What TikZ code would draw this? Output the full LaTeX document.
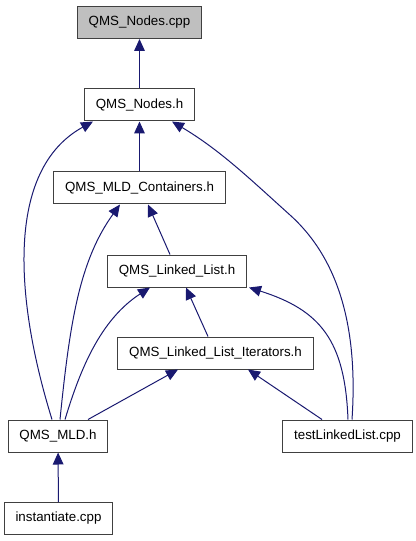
\documentclass[tikz,border=0pt]{standalone}
\usepackage{fontspec}
\setmainfont{Liberation Sans}
\usetikzlibrary{arrows.meta,calc}
\definecolor{inclnavy}{RGB}{25, 25, 112}
\definecolor{filegray}{RGB}{191, 191, 191}
\definecolor{fileedge}{RGB}{64, 64, 64}
\tikzset{
  % --- FILE BOXES ---
  file/.style={
    draw=fileedge,
    fill=white,
    line width=0.75pt,
    font=\fontsize{10}{12}\selectfont,
    inner xsep=8.5pt,
    inner ysep=0pt,
    minimum height=24pt
  },
  file-root/.style={
    file,
    fill=filegray
  },
  % --- ARROWS ---
  incl/.style={
    draw=inclnavy,
    line width=0.75pt,
    -{Triangle[length=9pt,width=8pt]}
  },
}

\begin{document}
\begin{tikzpicture}[x=0.75pt, y=-0.75pt]
  \useasboundingbox (0,0) rectangle (416,541);

  % --- files
  \node[file-root] (nodescpp) at (139.5, 22.5) {QMS\_Nodes.cpp};
  \node[file] (nodesh)   at (139.5, 105) {QMS\_Nodes.h};
  \node[file] (contain)  at (139.5, 188) {QMS\_MLD\_Containers.h};
  \node[file] (linklist) at (177, 271) {QMS\_Linked\_List.h};
  \node[file] (iterat)   at (215.5, 353) {QMS\_Linked\_List\_Iterators.h};
  \node[file] (mldh)     at (58, 436) {QMS\_MLD.h};
  \node[file] (testll)   at (347.5, 436) {testLinkedList.cpp};
  \node[file] (instant)  at (58.5, 518.5) {instantiate.cpp};

  % --- straight includes
  \draw[incl] (nodesh) -- (nodescpp);
  \draw[incl] (contain) -- (nodesh);
  \draw[incl] (instant) -- (mldh);
  \draw[incl] ($(linklist.north)+(-7,0)$) -- ($(contain.south)+(8.5,0)$);
  \draw[incl] ($(iterat.north)+(-7.5,0)$) -- ($(linklist.south)+(9,0)$);
  \draw[incl] ($(mldh.north)+(30,0)$) -- ($(iterat.south)+(-37.5,0)$);
  \draw[incl] ($(testll.north)+(-25.5,0)$) -- ($(iterat.south)+(32.5,0)$);

  % --- curved includes
  \draw[incl] ($(mldh.north)+(-6,0)$) .. controls (15,300) and (5,170) .. ($(nodesh.south)+(-46.5,0)$);
  \draw[incl] ($(mldh.north)+(2,0)$) .. controls (70,320) and (80,260) .. ($(contain.south)+(-19.5,0)$);
  \draw[incl] ($(mldh.north)+(7,0)$) .. controls (80,370) and (100,320) .. ($(linklist.south)+(-27,0)$);
  \draw[incl] ($(testll.north)+(4.5,0)$) .. controls (358,330) and (340,260) .. (290,215)
    .. controls (250,179) and (220,150) .. ($(nodesh.south)+(32.5,0)$);
  \draw[incl] ($(testll.north)+(0.5,0)$) .. controls (345,340) and (320,310) .. ($(linklist.south east)+(2,0)$);

\end{tikzpicture}
\end{document}
